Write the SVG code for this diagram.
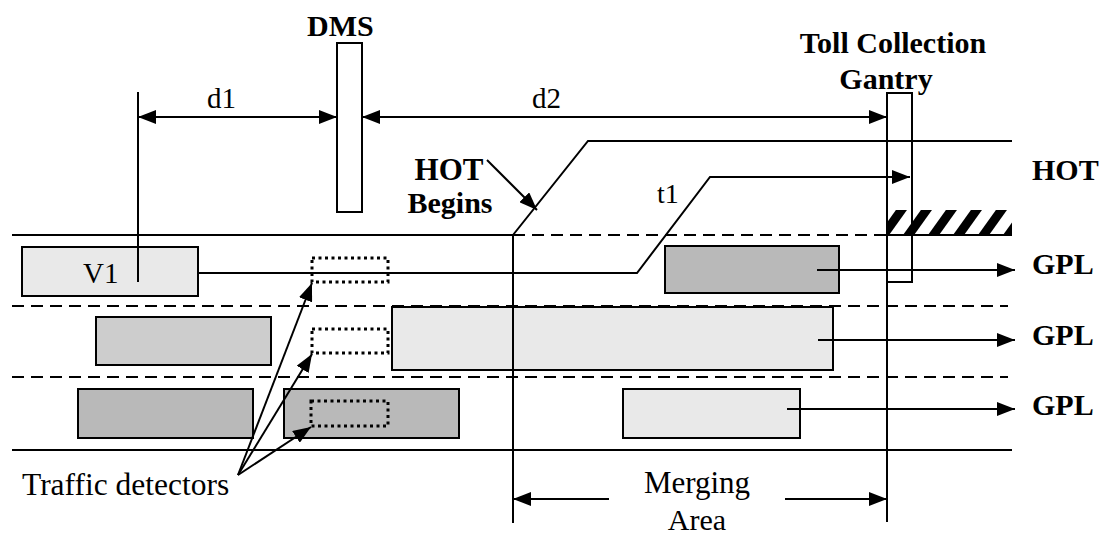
<svg xmlns="http://www.w3.org/2000/svg" width="1106" height="534" viewBox="0 0 1106 534">
<style>
.ln{stroke:#000;stroke-width:2;fill:none}
.dash{stroke:#000;stroke-width:2;fill:none;stroke-dasharray:12 7}
.box{stroke:#000;stroke-width:2}
.light{fill:#e9e9e9}
.mid{fill:#cdcdcd}
.dark{fill:#b9b9b9}
.det{fill:none;stroke:#000;stroke-width:3;stroke-dasharray:3 3.5}
.t{font-family:"Liberation Serif","Times New Roman",serif;font-size:30px;fill:#000}
.b{font-family:"Liberation Serif","Times New Roman",serif;font-size:30px;font-weight:bold;fill:#000}
</style>
<defs>
<marker id="ah" markerUnits="userSpaceOnUse" markerWidth="18" markerHeight="14" refX="18" refY="7" orient="auto-start-reverse">
<path d="M0,0 L18,7 L0,14 z" fill="#000"/>
</marker>
<clipPath id="hclip"><rect x="887" y="210" width="125" height="25"/></clipPath>
</defs>
<rect width="1106" height="534" fill="#fff"/>

<g id="road">
<line class="ln" x1="12" y1="235" x2="513" y2="235"/>
<line class="dash" x1="513" y1="235" x2="887" y2="235"/>
<line class="ln" x1="887" y1="235" x2="1012" y2="235"/>
<polyline class="ln" points="513,235 588,141 1012,141"/>
<line class="dash" x1="12" y1="306" x2="1008" y2="306"/>
<line class="dash" x1="12" y1="377" x2="1008" y2="377"/>
<line class="ln" x1="12" y1="450" x2="1012" y2="450"/>
<g id="hatch" clip-path="url(#hclip)" stroke="#000" stroke-width="9">
<line x1="880" y1="240" x2="905" y2="205"/>
<line x1="905" y1="240" x2="930" y2="205"/>
<line x1="930" y1="240" x2="955" y2="205"/>
<line x1="955" y1="240" x2="980" y2="205"/>
<line x1="980" y1="240" x2="1005" y2="205"/>
<line x1="1005" y1="240" x2="1030" y2="205"/>
</g>
</g>

<g id="vehicles">
<rect id="v1" class="box light" x="22" y="247" width="176" height="49"/>
<rect id="car-l1-right" class="box dark" x="665" y="246" width="174" height="47"/>
<rect id="car-l2-left" class="box mid" x="96" y="317" width="175" height="48"/>
<rect id="car-l2-long" class="box light" x="392" y="307" width="441" height="63"/>
<rect id="car-l3-a" class="box dark" x="78" y="389" width="175" height="49"/>
<rect id="car-l3-b" class="box dark" x="284" y="389" width="175" height="49"/>
<rect id="car-l3-right" class="box light" x="623" y="389" width="177" height="49"/>
</g>

<g id="detectors">
<rect class="det" x="312" y="258" width="76" height="24"/>
<rect class="det" x="312" y="329" width="76" height="24"/>
<rect class="det" x="311" y="401" width="77" height="25"/>
</g>

<g id="dms">
<rect class="box" fill="#fff" x="337" y="43" width="25" height="169"/>
</g>

<g id="gantry">
<rect class="box" fill="none" x="887" y="93" width="25" height="189"/>
<line class="ln" x1="887" y1="282" x2="887" y2="522"/>
</g>

<g id="markers">
<line class="ln" x1="138" y1="92" x2="138" y2="282"/>
<line class="ln" x1="513" y1="235" x2="513" y2="523"/>
</g>

<g id="connectors">
<line class="ln" x1="138" y1="117" x2="337" y2="117" marker-start="url(#ah)" marker-end="url(#ah)"/>
<line class="ln" x1="362" y1="117" x2="887" y2="117" marker-start="url(#ah)" marker-end="url(#ah)"/>
<line class="ln" x1="487" y1="160" x2="537" y2="210" marker-end="url(#ah)"/>
<polyline class="ln" points="198,273 637,273 710,177 910,177" marker-end="url(#ah)"/>
<line class="ln" x1="817" y1="270" x2="1015" y2="270" marker-end="url(#ah)"/>
<line class="ln" x1="818" y1="340" x2="1015" y2="340" marker-end="url(#ah)"/>
<line class="ln" x1="787" y1="409" x2="1015" y2="409" marker-end="url(#ah)"/>
<line class="ln" x1="238" y1="475" x2="312" y2="283" marker-end="url(#ah)"/>
<line class="ln" x1="238" y1="475" x2="312" y2="354" marker-end="url(#ah)"/>
<line class="ln" x1="238" y1="475" x2="311" y2="427" marker-end="url(#ah)"/>
<line class="ln" x1="609" y1="499" x2="513" y2="499" marker-end="url(#ah)"/>
<line class="ln" x1="785" y1="499" x2="887" y2="499" marker-end="url(#ah)"/>
</g>

<g id="labels">
<text class="b" x="307" y="36">DMS</text>
<text class="b" x="893" y="53" text-anchor="middle">Toll Collection</text>
<text class="b" x="886" y="89" text-anchor="middle">Gantry</text>
<text class="b" x="449" y="180" text-anchor="middle" style="font-size:31px">HOT</text>
<text class="b" x="450" y="213" text-anchor="middle">Begins</text>
<text class="b" x="1032" y="180">HOT</text>
<text class="b" x="1032" y="274">GPL</text>
<text class="b" x="1032" y="345">GPL</text>
<text class="b" x="1032" y="415">GPL</text>
<text class="t" x="207" y="108" style="font-size:29px">d1</text>
<text class="t" x="532" y="108" style="font-size:29px">d2</text>
<text class="t" x="657" y="203" style="font-size:28px">t1</text>
<text class="t" x="83" y="283" style="font-size:29px">V1</text>
<text class="t" x="22" y="495" style="font-size:31.5px">Traffic detectors</text>
<text class="t" x="697" y="493" text-anchor="middle" style="font-size:31px">Merging</text>
<text class="t" x="697" y="530" text-anchor="middle">Area</text>
</g>
</svg>
